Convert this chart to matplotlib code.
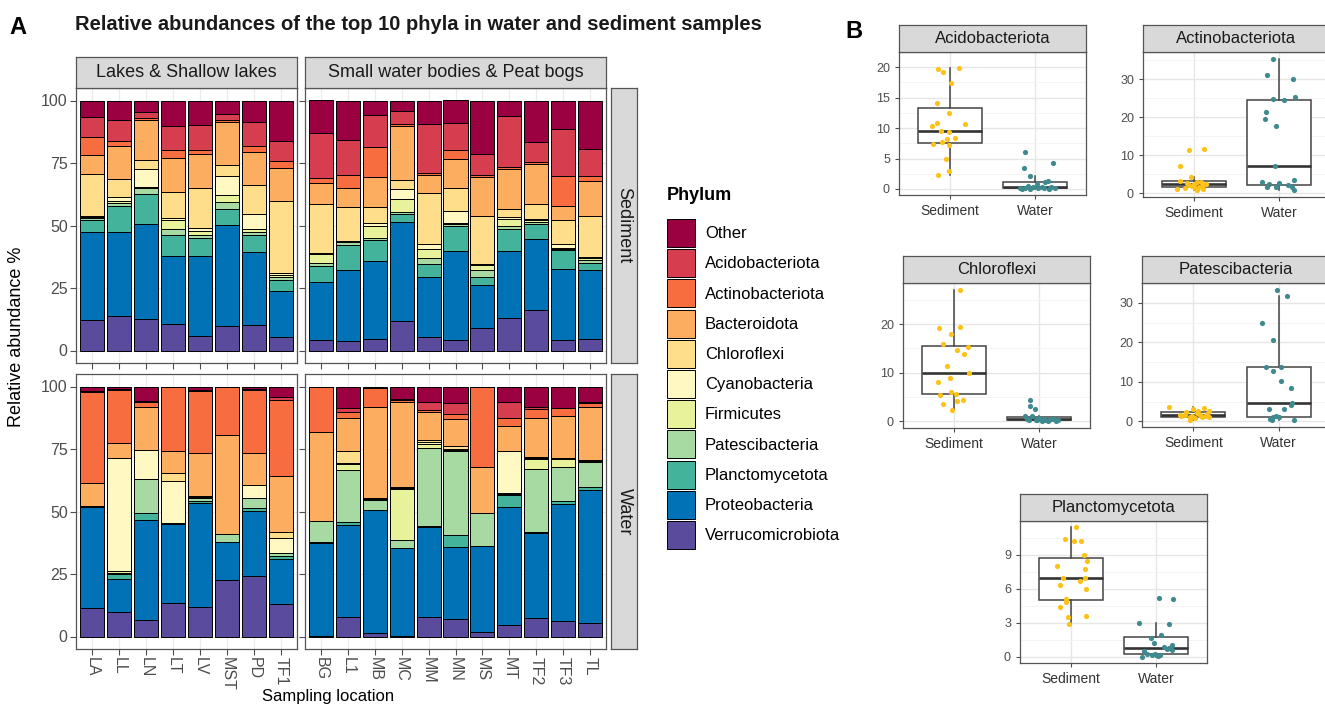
import numpy as np
import matplotlib.pyplot as plt
from matplotlib.patches import Patch

plt.rcParams['font.family'] = ['Liberation Sans', 'DejaVu Sans']

W, H = 1325, 705

# ---------------- data, panel A ----------------
lakes = ['LA', 'LL', 'LN', 'LT', 'LV', 'MST', 'PD', 'TF1']
small = ['BG', 'L1', 'MB', 'MC', 'MM', 'MN', 'MS', 'MT', 'TF2', 'TF3', 'TL']

phyla = ['Other', 'Acidobacteriota', 'Actinobacteriota', 'Bacteroidota', 'Chloroflexi',
         'Cyanobacteria', 'Firmicutes', 'Patescibacteria', 'Planctomycetota',
         'Proteobacteria', 'Verrucomicrobiota']
phylum_colors = ['#9b0040', '#d63e50', '#f86d40', '#fdad60', '#fedd8b', '#fff8c2',
                 '#e8f29b', '#a7d9a2', '#44b39c', '#0072b5', '#5b4b9d']

# sediment, order: lakes then small water bodies
sed_verru = [12.2, 13.7, 12.6, 10.6, 5.7, 10.0, 10.4, 5.3, 4.3, 4.0, 4.7, 12.0, 5.3, 4.3, 9.0, 12.9, 16.4, 4.3, 4.7]
sed_proteo = [35.3, 33.8, 38.2, 27.3, 32.2, 40.1, 29.1, 18.4, 23.0, 28.2, 31.2, 39.6, 24.0, 35.6, 17.3, 27.0, 28.1, 28.3, 27.5]
sed_plancto = [4.6, 10.3, 11.7, 8.2, 7.3, 6.4, 6.8, 4.5, 6.6, 10.0, 8.2, 2.9, 5.3, 10.0, 3.2, 8.9, 6.3, 7.6, 3.0]
sed_patesci = [1.0, 1.2, 2.7, 2.7, 1.2, 3.1, 1.0, 1.2, 1.0, 1.2, 1.0, 1.1, 2.6, 0.8, 2.9, 1.2, 0.8, 0.5, 1.0]
sed_firmi = [0.5, 1.0, 0.3, 3.3, 1.5, 2.6, 1.2, 1.0, 3.7, 0.3, 4.8, 4.9, 3.4, 0.5, 1.8, 2.8, 0.5, 0.5, 1.0]
sed_cyano = [0.3, 1.5, 7.2, 0.8, 1.1, 7.6, 6.0, 0.5, 0.3, 0.3, 1.0, 4.0, 2.2, 4.7, 0.5, 0.5, 0.5, 1.3, 0.3]
sed_chloro = [16.6, 7.0, 3.5, 10.7, 15.9, 4.4, 11.7, 28.9, 19.9, 13.6, 6.7, 3.6, 20.4, 9.3, 19.2, 3.2, 6.2, 9.6, 16.4]
sed_bacter = [7.7, 13.5, 16.2, 13.5, 13.8, 17.3, 13.3, 13.3, 8.4, 7.6, 11.8, 21.7, 6.9, 11.5, 15.5, 16.0, 15.7, 5.7, 13.9]
sed_actino = [7.3, 1.8, 0.8, 3.1, 1.5, 0.9, 2.5, 2.7, 1.9, 4.9, 12.1, 1.0, 1.1, 3.4, 0.7, 1.0, 1.0, 12.0, 2.0]
sed_acido = [8.0, 8.4, 2.3, 9.6, 10.2, 2.4, 9.5, 8.2, 18.0, 14.1, 12.9, 4.9, 19.5, 11.0, 8.6, 20.3, 8.0, 19.0, 10.7]
sed_other = [6.5, 7.8, 4.5, 10.2, 9.6, 5.2, 8.5, 16.0, 12.9, 15.8, 5.6, 4.3, 9.3, 8.9, 21.3, 6.2, 16.5, 11.2, 19.5]

# water
wat_verru = [11.6, 10.0, 6.7, 13.6, 12.0, 22.7, 24.3, 12.9, 0.4, 7.7, 1.3, 0.4, 8.0, 6.9, 2.0, 4.7, 7.6, 6.4, 5.3]
wat_proteo = [40.4, 12.9, 40.0, 31.5, 41.3, 15.0, 26.1, 18.0, 37.2, 37.0, 49.4, 34.9, 35.7, 29.1, 34.3, 47.0, 33.7, 46.7, 53.4]
wat_plancto = [0, 2.2, 2.9, 0.2, 0.8, 0, 1.0, 1.3, 0.3, 1.3, 0, 0, 0.7, 4.7, 0, 5.0, 0.7, 1.0, 1.3]
wat_patesci = [0, 0.5, 13.3, 0, 1.2, 3.2, 4.2, 1.1, 8.5, 20.7, 4.0, 3.4, 31.2, 33.6, 13.3, 0.3, 24.9, 13.6, 10.0]
wat_firmi = [0, 0.5, 0.3, 0, 0.5, 0, 0, 0.3, 0, 2.4, 0.3, 20.4, 1.5, 0.3, 0, 0.3, 4.0, 3.2, 0.3]
wat_cyano = [0.3, 45.2, 11.5, 17.0, 0.3, 0, 5.1, 5.7, 0, 0.5, 0.3, 0.3, 0.7, 0.3, 0, 17.0, 0.5, 0, 0]
wat_chloro = [0, 0, 0, 3.0, 0, 0, 0, 2.7, 0, 4.7, 0, 0.3, 1.0, 1.3, 0, 0, 0.5, 0.5, 0.3]
wat_bacter = [9.0, 6.0, 17.3, 9.0, 17.2, 39.8, 12.9, 22.3, 35.6, 13.0, 36.7, 34.3, 11.2, 10.7, 18.4, 10.0, 15.4, 17.0, 21.4]
wat_actino = [36.7, 21.4, 1.7, 25.7, 25.1, 19.3, 25.1, 30.4, 18.0, 2.7, 7.3, 0.8, 0.8, 2.0, 32.0, 3.3, 3.6, 2.9, 1.3]
wat_acido = [0.3, 0.3, 0.6, 0, 0.3, 0, 0.3, 1.3, 0, 1.3, 0, 0.3, 3.2, 4.4, 0, 6.4, 1.0, 0, 0.7]
wat_other = [1.7, 1.0, 5.7, 0, 1.3, 0, 1.0, 4.0, 0, 8.7, 0.7, 4.9, 6.0, 6.7, 0, 6.0, 8.1, 8.7, 6.0]

sediment = dict(zip(phyla, [sed_other, sed_acido, sed_actino, sed_bacter, sed_chloro, sed_cyano,
                            sed_firmi, sed_patesci, sed_plancto, sed_proteo, sed_verru]))
water = dict(zip(phyla, [wat_other, wat_acido, wat_actino, wat_bacter, wat_chloro, wat_cyano,
                         wat_firmi, wat_patesci, wat_plancto, wat_proteo, wat_verru]))

# ---------------- data, panel B (points + jitter) ----------------
acido_sed = [19.7, 19.2, 19.8, 17.4, 14.2, 12.5, 10.9, 10.7, 10.3, 9.5, 9.4, 8.2, 8.4, 7.7, 7.4, 7.2, 4.9, 2.9, 2.3]
acido_sed_dx = [-0.14, -0.08, 0.10, 0.01, -0.15, -0.01, -0.15, 0.18, -0.21, -0.11, -0.01, -0.04, 0.06, -0.10, -0.20, -0.01, -0.05, -0.01, -0.14]
acido_wat = [6.1, 4.2, 3.4, 2.1, 1.3, 1.1, 0.8, 0.5, 0.35, 0.3, 0.25, 0.2, 0.15, 0.1, 0.1, 0.1, 0.05, 0.0, 0.0]
acido_wat_dx = [-0.12, 0.21, -0.13, -0.06, 0.15, 0.12, 0.02, -0.08, 0.08, -0.02, 0.19, -0.18, 0.04, -0.12, 0.23, 0.10, -0.06, 0.17, -0.15]

actino_sed = [11.5, 11.6, 7.2, 4.3, 3.2, 3.0, 2.8, 2.7, 2.5, 2.4, 2.2, 2.0, 1.0, 1.8, 0.7, 1.4, 1.6, 1.3, 1.2]
actino_sed_dx = [-0.06, 0.12, -0.16, -0.03, -0.16, 0.04, 0.08, -0.08, 0.14, 0.0, -0.06, 0.10, -0.20, -0.02, 0.04, -0.11, 0.06, 0.01, 0.11]
actino_wat = [35.5, 31.2, 30.2, 24.9, 24.5, 25.4, 21.4, 19.6, 17.6, 7.2, 2.9, 3.4, 2.5, 2.7, 2.0, 1.6, 1.6, 1.6, 0.9]
actino_wat_dx = [-0.07, -0.14, 0.17, -0.07, 0.06, 0.19, -0.15, -0.16, -0.03, -0.05, -0.20, 0.18, -0.12, 0.0, 0.10, -0.14, -0.04, 0.15, 0.18]

chloro_sed = [27.1, 19.2, 19.5, 18.0, 15.9, 15.2, 14.6, 13.8, 11.4, 9.0, 10.0, 8.1, 5.5, 6.1, 5.7, 4.1, 4.5, 3.5, 2.4]
chloro_sed_dx = [0.07, -0.18, 0.07, -0.04, -0.13, 0.16, 0.04, 0.12, -0.08, -0.05, 0.18, -0.19, -0.16, -0.03, 0.02, 0.04, 0.11, -0.13, -0.02]
chloro_wat = [4.5, 3.1, 2.5, 1.1, 1.2, 0.7, 0.55, 0.2, 0.55, 0.2, 0.0, 0.0, 0.1, 0.55, 0.35, 0.55, 0.2, 0.35, 0.2]
chloro_wat_dx = [-0.11, -0.11, -0.05, -0.16, -0.08, 0.0, 0.06, 0.12, 0.18, -0.04, 0.04, 0.10, 0.20, -0.14, -0.02, 0.14, -0.12, 0.22, 0.07]

pates_sed = [3.6, 1.4, 1.4, 3.4, 1.7, 1.1, 2.1, 1.9, 0.8, 0.4, 1.7, 1.3, 2.5, 2.3, 2.7, 3.0, 1.7, 1.1, 1.1]
pates_sed_dx = [-0.28, -0.14, -0.02, 0.12, -0.10, -0.04, 0.04, 0.16, 0.02, -0.04, 0.08, 0.14, 0.18, -0.08, 0.06, 0.0, -0.16, 0.10, 0.18]
pates_wat = [33.4, 31.7, 24.9, 20.5, 13.7, 13.7, 12.7, 10.3, 8.5, 4.6, 4.2, 3.1, 3.1, 1.3, 1.0, 0.6, 1.1, 0.2, 0.2]
pates_wat_dx = [-0.02, 0.10, -0.20, -0.07, -0.15, 0.03, -0.07, 0.03, 0.14, 0.16, 0.14, -0.11, 0.06, -0.03, -0.07, -0.10, 0.0, 0.18, -0.08]

plancto_sed = [11.4, 10.4, 10.2, 10.2, 9.0, 8.4, 8.0, 7.7, 6.9, 6.7, 6.9, 6.3, 6.0, 5.1, 4.8, 4.4, 3.6, 3.5, 2.9]
plancto_sed_dx = [0.06, -0.07, 0.03, 0.12, 0.15, 0.19, -0.17, 0.16, -0.10, 0.11, 0.17, -0.13, 0.18, -0.06, -0.06, -0.13, 0.18, -0.04, -0.02]
plancto_wat = [5.2, 5.1, 3.0, 2.9, 1.9, 1.6, 1.2, 1.0, 0.85, 0.75, 0.6, 0.5, 0.25, 0.15, 0.0, 0.05, 0.7, 0.2, 0.1]
plancto_wat_dx = [0.04, 0.20, -0.20, 0.15, 0.06, -0.06, -0.02, 0.19, 0.09, 0.15, 0.19, -0.14, -0.01, 0.05, -0.16, 0.02, 0.13, -0.11, -0.05]

groups = ['Sediment', 'Water']
group_colors = ['#fcc21a', '#3f8a8f']


def rect(x0, y0, x1, y1):
    # pixel box (top-left origin) -> figure fraction
    return [x0 / W, 1 - y1 / H, (x1 - x0) / W, (y1 - y0) / H]


fig = plt.figure(figsize=(W / 100, H / 100), dpi=100)


def strip(box, text, rotation=0, size=13):
    s = fig.add_axes(rect(*box))
    s.set_facecolor('#d9d9d9')
    s.set_xticks([])
    s.set_yticks([])
    for sp in s.spines.values():
        sp.set_color('#555555')
        sp.set_linewidth(0.9)
    s.text(0.5, 0.5, text, ha='center', va='center', rotation=rotation, size=size,
           color='#1a1a1a', transform=s.transAxes)


def stacked(ax, table, sl, labels, show_x):
    x = np.arange(len(labels))
    bottom = np.zeros(len(labels))
    for ph, col in reversed(list(zip(phyla, phylum_colors))):
        v = np.array(table[ph][sl])
        ax.bar(x, v, 0.9, bottom=bottom, color=col, edgecolor='black', linewidth=0.7, zorder=2)
        bottom += v
    ax.set_xlim(-0.6, len(labels) - 0.4)
    ax.set_ylim(-5, 105)
    ax.set_yticks([0, 25, 50, 75, 100])
    ax.set_xticks(x)
    ax.grid(True, color='#ebebeb', lw=0.9, zorder=0)
    ax.set_axisbelow(True)
    if show_x:
        ax.set_xticklabels(labels, rotation=-90, fontsize=11.5, color='#4d4d4d')
    else:
        ax.set_xticklabels([])
    ax.tick_params(colors='#4d4d4d', labelsize=11.5, length=4, pad=2)
    for sp in ax.spines.values():
        sp.set_color('#555555')
        sp.set_linewidth(0.9)


# ---------------- panel A ----------------
nl = len(lakes)
axes_a = [
    (rect(76, 88, 297, 363), sediment, slice(0, nl), lakes, False, True),
    (rect(305, 88, 606, 363), sediment, slice(nl, None), small, False, False),
    (rect(76, 374, 297, 649), water, slice(0, nl), lakes, True, True),
    (rect(305, 374, 606, 649), water, slice(nl, None), small, True, False),
]
for r, table, sl, labels, show_x, show_y in axes_a:
    ax = fig.add_axes(r)
    stacked(ax, table, sl, labels, show_x)
    if not show_y:
        ax.set_yticklabels([])

strip((76, 57, 297, 88), 'Lakes & Shallow lakes')
strip((305, 57, 606, 88), 'Small water bodies & Peat bogs')
strip((611, 88, 637, 363), 'Sediment', rotation=-90)
strip((611, 374, 637, 649), 'Water', rotation=-90)

fig.text(17 / W, 1 - 337 / H, 'Relative abundance %', rotation=90, ha='center', va='center', size=13)
fig.text(328 / W, 1 - 697 / H, 'Sampling location', ha='center', va='center', size=12)
fig.text(75 / W, 1 - 24 / H, 'Relative abundances of the top 10 phyla in water and sediment samples',
         ha='left', va='center', size=14.5, weight='bold', color='#1a1a1a')
fig.text(9 / W, 1 - 27 / H, 'A', ha='left', va='center', size=17, weight='bold')
fig.text(845 / W, 1 - 32 / H, 'B', ha='left', va='center', size=17, weight='bold')

# legend
fig.text(667 / W, 1 - 195 / H, 'Phylum', ha='left', va='center', size=13, weight='bold')
handles = [Patch(facecolor=c, edgecolor='black', linewidth=0.7) for c in phylum_colors]
fig.legend(handles, phyla, loc='upper left', bbox_to_anchor=(667 / W, 1 - 219 / H),
           frameon=False, fontsize=12, handlelength=1.68, handleheight=2.21,
           labelspacing=0.13, handletextpad=0.6, borderpad=0, borderaxespad=0)

# ---------------- panel B ----------------
panels_b = [
    ('Acidobacteriota', (899, 52, 1086, 195), acido_sed, acido_sed_dx, acido_wat, acido_wat_dx, [0, 5, 10, 15, 20]),
    ('Actinobacteriota', (1143, 52, 1330, 197), actino_sed, actino_sed_dx, actino_wat, actino_wat_dx, [0, 10, 20, 30]),
    ('Chloroflexi', (903, 283, 1090, 428), chloro_sed, chloro_sed_dx, chloro_wat, chloro_wat_dx, [0, 10, 20]),
    ('Patescibacteria', (1142, 283, 1330, 427), pates_sed, pates_sed_dx, pates_wat, pates_wat_dx, [0, 10, 20, 30]),
    ('Planctomycetota', (1020, 521, 1207, 663), plancto_sed, plancto_sed_dx, plancto_wat, plancto_wat_dx, [0, 3, 6, 9]),
]
for name, box, s_val, s_dx, w_val, w_dx, yt in panels_b:
    ax = fig.add_axes(rect(*box))
    ax.boxplot([s_val, w_val], positions=[1, 2], widths=0.75, showfliers=False, showcaps=False,
               patch_artist=True,
               boxprops=dict(facecolor='white', edgecolor='#444444', linewidth=1.1),
               medianprops=dict(color='#333333', linewidth=1.9),
               whiskerprops=dict(color='#444444', linewidth=1.1))
    for i, (vals, dx) in enumerate([(s_val, s_dx), (w_val, w_dx)]):
        ax.scatter(i + 1 + np.array(dx), vals, s=14, color=group_colors[i], linewidths=0, zorder=3)
    ax.set_xlim(0.4, 2.6)
    ax.margins(y=0.05)
    ax.set_yticks(yt)
    step = yt[1] - yt[0]
    ax.set_yticks([t + step / 2 for t in yt], minor=True)
    ax.set_xticks([1, 2])
    ax.set_xticklabels(groups)
    ax.grid(True, which='major', color='#e6e6e6', lw=1.0)
    ax.grid(True, which='minor', axis='y', color='#f2f2f2', lw=0.6)
    ax.set_axisbelow(True)
    ax.tick_params(axis='y', labelsize=9, colors='#4d4d4d', length=3)
    ax.tick_params(axis='x', labelsize=10, colors='#4d4d4d', labelcolor='#333333', length=3)
    ax.tick_params(which='minor', length=0)
    for sp in ax.spines.values():
        sp.set_color('#555555')
        sp.set_linewidth(0.9)
    strip((box[0], box[1] - 27, box[2], box[1]), name, size=12)

fig.savefig('out.png', dpi=100, facecolor='white')
